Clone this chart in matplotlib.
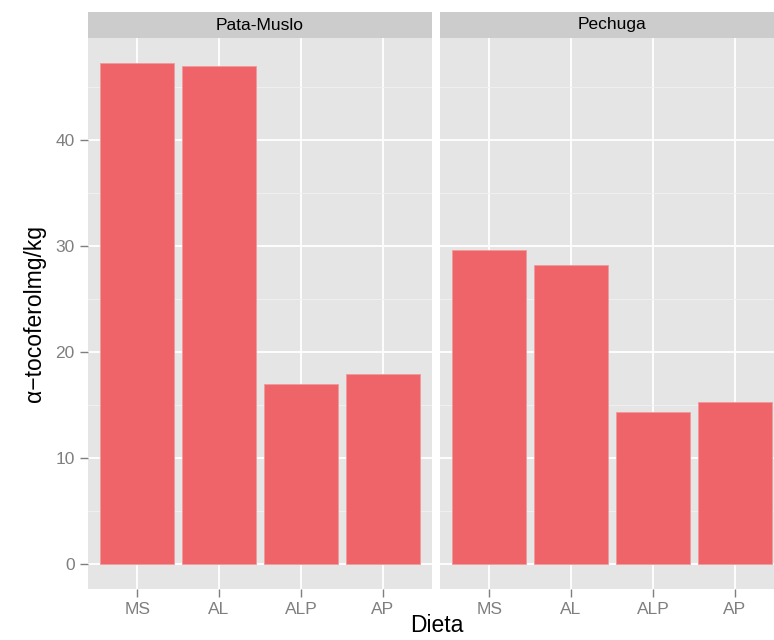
import matplotlib
matplotlib.use("Agg")
import matplotlib.pyplot as plt
import numpy as np

# data
dietas = ["MS", "AL", "ALP", "AP"]
paneles = ["Pata-Muslo", "Pechuga"]
pata_muslo = [47.25, 47.0, 17.0, 17.95]
pechuga = [29.6, 28.2, 14.35, 15.35]
valores = [pata_muslo, pechuga]

plt.rcParams['font.family'] = ['Liberation Sans', 'DejaVu Sans']

W, H = 774, 640
fig = plt.figure(figsize=(W/100, H/100), dpi=100)

ymax = max(max(v) for v in valores)
ylim = (-0.05*ymax, 1.05*ymax)

panel_x = [88, 440]
panel_w = 344
top, bottom = 38.3, 589.3
strip_top = 11.7

x = np.arange(1, len(dietas)+1)
for i, (nombre, vals) in enumerate(zip(paneles, valores)):
    ax = fig.add_axes([panel_x[i]/W, (H-bottom)/H, panel_w/W, (bottom-top)/H])
    ax.set_facecolor('#E5E5E5')
    ax.set_xlim(0.4, 4.6)
    ax.set_ylim(*ylim)
    for s in ax.spines.values():
        s.set_visible(False)
    ax.set_yticks([0, 10, 20, 30, 40])
    ax.set_yticks([5, 15, 25, 35, 45], minor=True)
    ax.set_xticks(x)
    ax.set_xticklabels(dietas)
    ax.grid(True, which='major', color='white', lw=1.3)
    ax.grid(True, which='minor', axis='y', color='#F2F2F2', lw=0.6)
    ax.set_axisbelow(True)
    ax.tick_params(which='major', length=5.5, width=1, color='#7F7F7F',
                   labelcolor='#7F7F7F', labelsize=12.5, pad=4)
    ax.tick_params(which='minor', length=0)
    if i > 0:
        ax.tick_params(axis='y', left=False, labelleft=False)
    ax.bar(x, vals, width=0.9, color='#EE6468', edgecolor='#F29A9A', lw=0.6)

    sax = fig.add_axes([panel_x[i]/W, (H-top)/H, panel_w/W, (top-strip_top)/H])
    sax.set_facecolor('#CCCCCC')
    sax.set_xticks([])
    sax.set_yticks([])
    for s in sax.spines.values():
        s.set_visible(False)
    sax.text(0.5, 0.5, nombre, ha='center', va='center', fontsize=12.5,
             color='black', transform=sax.transAxes)

fig.text(35/W, (H-314)/H, "α−tocoferolmg/kg", rotation=90, ha='center',
         va='center', fontsize=16.5)
fig.text(437/W, 3/H, "Dieta", ha='center', va='bottom', fontsize=16.5)

fig.savefig("out.png", dpi=100, facecolor='white')
